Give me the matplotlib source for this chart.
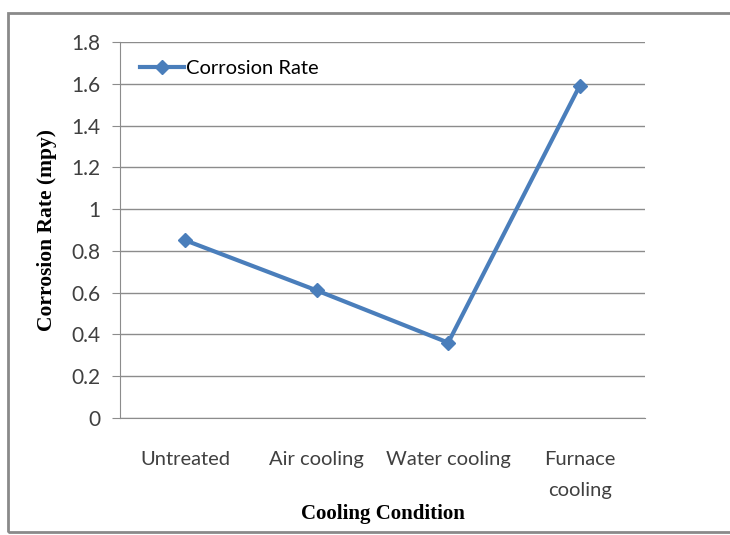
import matplotlib.pyplot as plt
from matplotlib.patches import Rectangle
from matplotlib.lines import Line2D

conditions = ["Untreated", "Air cooling", "Water cooling", "Furnace\ncooling"]
corrosion_rate = [0.85, 0.61, 0.36, 1.59]
yticks = [0, 0.2, 0.4, 0.6, 0.8, 1, 1.2, 1.4, 1.6, 1.8]
ytick_labels = ["0", "0.2", "0.4", "0.6", "0.8", "1", "1.2", "1.4", "1.6", "1.8"]

blue = "#4a7ebb"
grid = "#8c8c8c"
tick_font = ["Lato", "DejaVu Sans"]
label_font = "Liberation Serif"

fig = plt.figure(figsize=(7.3, 5.35), dpi=100)
ax = fig.add_axes([0.164, 0.219, 0.72, 0.7025])

# outer chart border
fig.patches.append(Rectangle((0.011, 0.006), 1.2, 0.97, transform=fig.transFigure,
                             fill=False, edgecolor="#8a8a8a", linewidth=2))

ax.plot(range(len(conditions)), corrosion_rate, color=blue, linewidth=3,
        marker="D", markersize=7, label="Corrosion Rate", zorder=3)

ax.set_xlim(-0.5, len(conditions) - 0.5)
ax.set_ylim(0, 1.8)
ax.set_yticks(yticks)
ax.set_yticklabels(ytick_labels, family=tick_font, fontsize=15, color="#404040")
ax.set_xticks(range(len(conditions)))
ax.set_xticklabels(conditions, family=tick_font, fontsize=14.5, color="#404040",
                   linespacing=2.0)
ax.yaxis.grid(True, color=grid, linewidth=1)
ax.set_axisbelow(True)

for side in ["top", "right"]:
    ax.spines[side].set_visible(False)
ax.spines["left"].set_color(grid)
ax.spines["bottom"].set_color(grid)
ax.tick_params(axis="y", length=6, color=grid, pad=8)
ax.tick_params(axis="x", length=0, pad=24)

ax.set_ylabel("Corrosion Rate (mpy)", family=label_font, fontweight="bold",
              fontsize=15.5, labelpad=10)
ax.set_xlabel("Cooling Condition", family=label_font, fontweight="bold",
              fontsize=15)
# the axis title sits beside the second line of "Furnace cooling"
ax.xaxis.set_label_coords(0.5, -0.228)

handle = Line2D([], [], color=blue, linewidth=3, marker="D", markersize=7)
ax.legend([handle], ["Corrosion Rate"], loc="upper left", frameon=False,
          prop={"family": tick_font, "size": 14.5}, handlelength=2.2,
          handletextpad=0.1, borderaxespad=0.3, bbox_to_anchor=(0.012, 0.99))

fig.savefig("out.png", dpi=100)
